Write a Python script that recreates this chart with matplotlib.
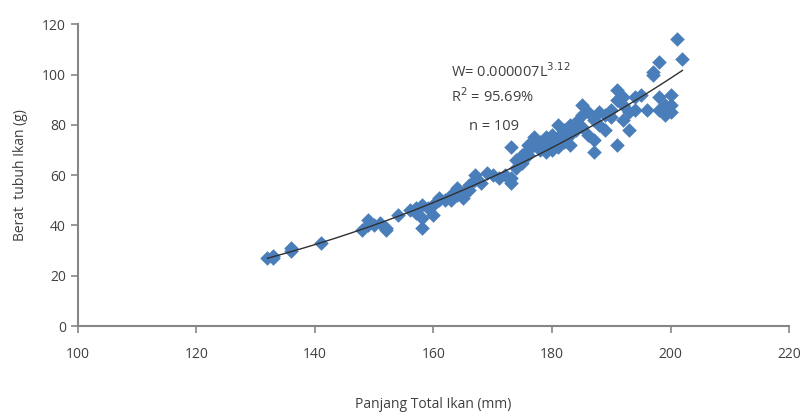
import numpy as np
import matplotlib.pyplot as plt

# Panjang total (mm) dan berat tubuh (g)
panjang = [132, 133, 133, 136, 136, 141, 148, 149, 149, 150, 151, 152, 152,
           154, 156, 157, 157, 158, 158, 158, 159, 160, 160, 161, 161, 162,
           163, 163, 164, 164, 165, 165, 166, 166, 167, 167, 168, 169, 170,
           171, 172, 173, 173, 173, 174, 174, 175, 175, 176, 176, 176, 177,
           177, 178, 178, 179, 179, 179, 180, 180, 180, 181, 181, 181, 182,
           182, 183, 183, 183, 184, 184, 185, 185, 185, 186, 186, 187, 187,
           187, 188, 188, 189, 189, 190, 190, 191, 191, 191, 192, 192, 192,
           193, 193, 194, 194, 195, 196, 197, 197, 198, 198, 198, 199, 199,
           200, 200, 200, 201, 202]
berat = [27, 27, 28, 31, 30, 33, 38, 40, 42, 40, 41, 38, 39,
         44, 46, 47, 45, 48, 39, 43, 47, 44, 48, 50, 51, 50,
         52, 50, 52, 55, 53, 51, 54, 56, 58, 60, 57, 61, 60,
         59, 60, 71, 57, 59, 63, 66, 65, 68, 68, 70, 72, 72,
         75, 70, 73, 75, 72, 69, 76, 70, 74, 75, 80, 71, 73,
         78, 80, 72, 76, 81, 78, 88, 79, 84, 76, 85, 74, 69,
         82, 80, 85, 84, 78, 83, 86, 94, 90, 72, 88, 82, 91,
         85, 78, 86, 91, 92, 86, 101, 100, 105, 86, 91, 84, 88,
         92, 85, 88, 114, 106]

# kurva W = a L^b dari regresi log
b, log_a = np.polyfit(np.log(panjang), np.log(berat), 1)
L_fit = np.linspace(min(panjang), max(panjang), 200)
W_fit = np.exp(log_a) * L_fit ** b

plt.rcParams['font.family'] = ['Open Sans', 'DejaVu Sans']
txt = '#404040'

fig = plt.figure(figsize=(8.02, 4.17), dpi=100)
ax = fig.add_axes([0.097, 0.218, 0.887, 0.724])

ax.scatter(panjang, berat, marker='D', s=55, color='#4a7ebb', linewidths=0, zorder=2)
ax.plot(L_fit, W_fit, color='#303030', lw=1.0, zorder=3)

ax.set_xlim(100, 220)
ax.set_ylim(0, 120)
ax.set_xticks(range(100, 221, 20))
ax.set_yticks(range(0, 121, 20))

for s in ['top', 'right']:
    ax.spines[s].set_visible(False)
for s in ['left', 'bottom']:
    ax.spines[s].set_color('#868686')
    ax.spines[s].set_linewidth(1.5)
ax.tick_params(colors='#868686', labelcolor=txt, labelsize=10, length=5, width=1.2)
ax.tick_params(axis='x', pad=10)

ax.set_xlabel('Panjang Total Ikan (mm)', color=txt, fontsize=10, labelpad=25)
ax.set_ylabel('Berat  tubuh Ikan (g)', color=txt, fontsize=10, labelpad=10)

ax.text(163, 99, r'W= 0.000007L$^{3.12}$', color=txt, fontsize=10.5)
ax.text(163, 89, r'R$^2$ = 95.69%', color=txt, fontsize=10.5)
ax.text(166, 78, 'n = 109', color=txt, fontsize=10.5)

plt.savefig('out.png', dpi=100)
